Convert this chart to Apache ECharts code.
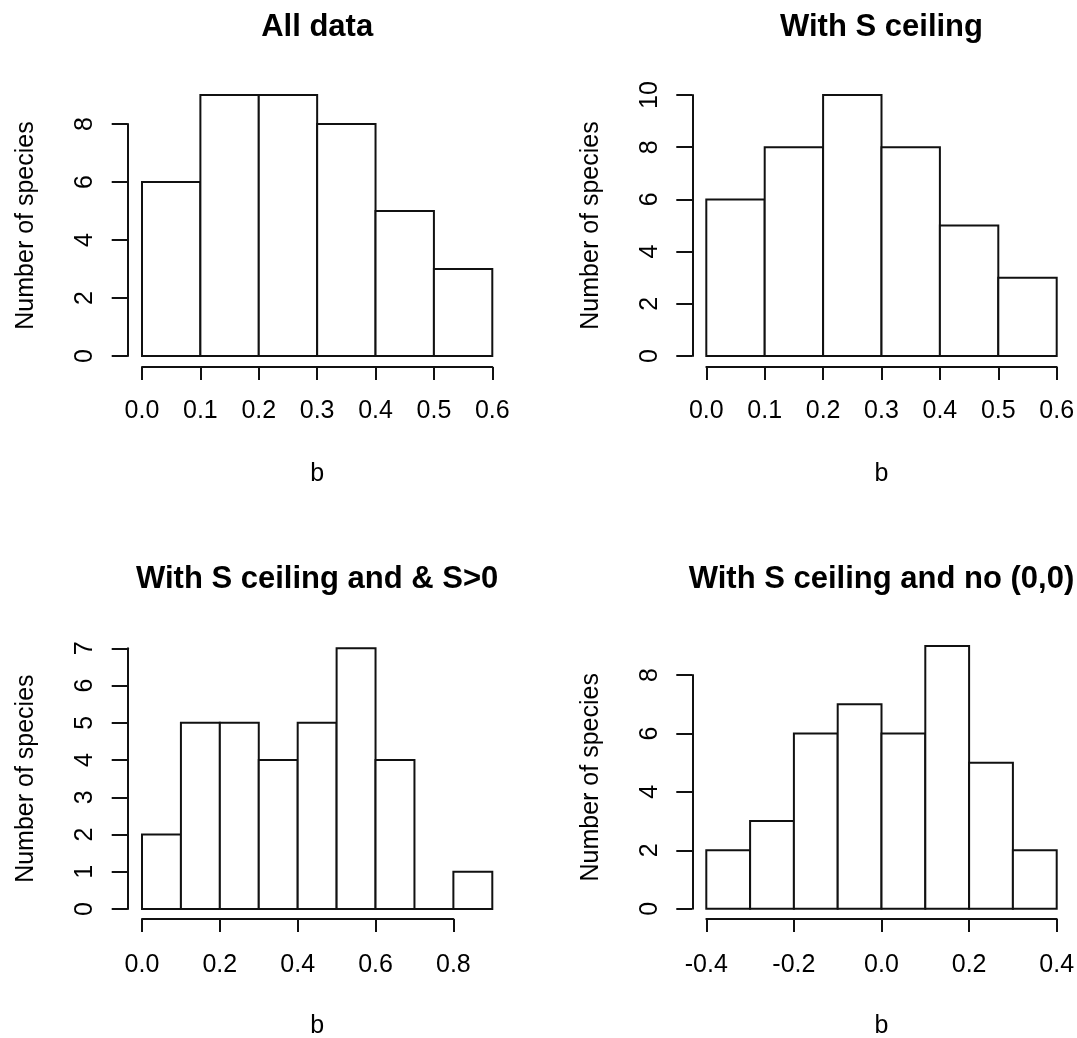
<!DOCTYPE html>
<html>
<head>
<meta charset="utf-8">
<script src="https://cdn.jsdelivr.net/npm/echarts@6/dist/echarts.min.js"></script>
<style>
html,body{margin:0;padding:0;background:#ffffff;}
#chart{width:1077px;height:1038px;}
</style>
</head>
<body>
<div id="chart"></div>
<script>
// ---------------- data ----------------
const titles = ['All data', 'With S ceiling', 'With S ceiling and & S>0', 'With S ceiling and no (0,0)'];
const xName = 'b';
const yName = 'Number of species';
const binWidth = 0.1;

const binStarts1 = [0.0, 0.1, 0.2, 0.3, 0.4, 0.5];
const counts1    = [6, 9, 9, 8, 5, 3];
const xTicks1    = [0.0, 0.1, 0.2, 0.3, 0.4, 0.5, 0.6];
const yTicks1    = [0, 2, 4, 6, 8];

const binStarts2 = [0.0, 0.1, 0.2, 0.3, 0.4, 0.5];
const counts2    = [6, 8, 10, 8, 5, 3];
const xTicks2    = [0.0, 0.1, 0.2, 0.3, 0.4, 0.5, 0.6];
const yTicks2    = [0, 2, 4, 6, 8, 10];

const binStarts3 = [0.0, 0.1, 0.2, 0.3, 0.4, 0.5, 0.6, 0.7, 0.8];
const counts3    = [2, 5, 5, 4, 5, 7, 4, 0, 1];
const xTicks3    = [0.0, 0.2, 0.4, 0.6, 0.8];
const yTicks3    = [0, 1, 2, 3, 4, 5, 6, 7];

const binStarts4 = [-0.4, -0.3, -0.2, -0.1, 0.0, 0.1, 0.2, 0.3];
const counts4    = [2, 3, 6, 7, 6, 9, 5, 2];
const xTicks4    = [-0.4, -0.2, 0.0, 0.2, 0.4];
const yTicks4    = [0, 2, 4, 6, 8];

// ---------------- layout (pixels) ----------------
// left/right: pixel x of the first/last data edge; base: pixel y of count 0; top: pixel y of max count
const layouts = [
  {left: 142,   right: 492.3,  base: 356,   top: 95,    xOff: 11, yOff: 14.3, titleY: 27.5, labelMargin: 32},
  {left: 706.3, right: 1056.7, base: 356,   top: 95,    xOff: 11, yOff: 14,   titleY: 27.5, labelMargin: 32},
  {left: 142,   right: 492.3,  base: 909,   top: 648.3, xOff: 10, yOff: 14.3, titleY: 579,  labelMargin: 34},
  {left: 706.3, right: 1056.7, base: 908.7, top: 645.9, xOff: 10.3, yOff: 14, titleY: 579,  labelMargin: 34}
];

const panelsData = [
  {starts: binStarts1, counts: counts1, xTicks: xTicks1, yTicks: yTicks1},
  {starts: binStarts2, counts: counts2, xTicks: xTicks2, yTicks: yTicks2},
  {starts: binStarts3, counts: counts3, xTicks: xTicks3, yTicks: yTicks3},
  {starts: binStarts4, counts: counts4, xTicks: xTicks4, yTicks: yTicks4}
];

const FONT = '"Liberation Sans", Arial, Helvetica, sans-serif';
const INK = '#111';

const grid = [], xAxis = [], yAxis = [], series = [], title = [];

panelsData.forEach((p, i) => {
  const L = layouts[i];
  const dataXMin = p.starts[0];
  const dataXMax = +(p.starts[p.starts.length - 1] + binWidth).toFixed(2);
  const dataYMax = Math.max.apply(null, p.counts);
  const tickXMin = p.xTicks[0], tickXMax = p.xTicks[p.xTicks.length - 1];
  const tickYMax = p.yTicks[p.yTicks.length - 1];
  const xInt = +(p.xTicks[1] - p.xTicks[0]).toFixed(2);
  const yInt = p.yTicks[1] - p.yTicks[0];

  const dW = L.right - L.left;
  const dH = L.base - L.top;
  const pxPerX = dW / (dataXMax - dataXMin);
  const pxPerY = dH / dataYMax;

  // axis grid (extent = tick range, like R's axis lines)
  const aLeft = L.left + (tickXMin - dataXMin) * pxPerX;
  const aW = (tickXMax - tickXMin) * pxPerX;
  const aH = tickYMax * pxPerY;
  grid.push({left: aLeft, top: L.base - aH, width: aW, height: aH, outerBoundsMode: 'none', containLabel: false});
  // data grid
  grid.push({left: L.left, top: L.top, width: dW, height: dH, outerBoundsMode: 'none', containLabel: false});

  const axisGridIdx = 2 * i, dataGridIdx = 2 * i + 1;

  xAxis.push({
    type: 'value', gridIndex: axisGridIdx, position: 'bottom',
    min: tickXMin, max: tickXMax, interval: xInt, offset: L.xOff,
    axisLine: {show: true, onZero: false, lineStyle: {color: INK, width: 2}},
    axisTick: {show: true, length: 13, lineStyle: {color: INK, width: 2}},
    axisLabel: {show: true, margin: L.labelMargin, fontSize: 25, fontFamily: FONT, color: '#000',
                showMinLabel: true, showMaxLabel: true,
                formatter: v => (Math.abs(v) < 1e-9 ? 0 : v).toFixed(1)},
    splitLine: {show: false}
  });
  xAxis.push({
    type: 'value', gridIndex: dataGridIdx, position: 'bottom',
    min: dataXMin, max: dataXMax, offset: L.xOff,
    axisLine: {show: false}, axisTick: {show: false}, axisLabel: {show: false}, splitLine: {show: false},
    name: xName, nameLocation: 'middle', nameGap: 95,
    nameTextStyle: {fontSize: 25, fontFamily: FONT, color: '#000'}
  });

  yAxis.push({
    type: 'value', gridIndex: axisGridIdx, position: 'left',
    min: 0, max: tickYMax, interval: yInt, offset: L.yOff,
    axisLine: {show: true, onZero: false, lineStyle: {color: INK, width: 2}},
    axisTick: {show: true, length: 16, lineStyle: {color: INK, width: 2}},
    axisLabel: {show: true, rotate: 90, margin: 30, fontSize: 25, fontFamily: FONT, color: '#000',
                showMinLabel: true, showMaxLabel: true},
    splitLine: {show: false}
  });
  yAxis.push({
    type: 'value', gridIndex: dataGridIdx, position: 'left',
    min: 0, max: dataYMax, offset: L.yOff,
    axisLine: {show: false}, axisTick: {show: false}, axisLabel: {show: false}, splitLine: {show: false},
    name: yName, nameLocation: 'middle', nameGap: 89, nameRotate: 90,
    nameTextStyle: {fontSize: 25, fontFamily: FONT, color: '#000'}
  });

  series.push({
    type: 'custom',
    xAxisIndex: dataGridIdx, yAxisIndex: dataGridIdx,
    clip: false, silent: true,
    encode: {x: [0, 1], y: 2},
    data: p.starts.map((s, k) => [s, +(s + binWidth).toFixed(2), p.counts[k]]),
    renderItem: (params, api) => {
      const a = api.coord([api.value(0), 0]);
      const b = api.coord([api.value(1), api.value(2)]);
      return {
        type: 'rect',
        shape: {x: a[0], y: b[1], width: b[0] - a[0], height: a[1] - b[1]},
        style: {fill: '#ffffff', stroke: INK, lineWidth: 2}
      };
    }
  });

  title.push({
    text: titles[i],
    left: (L.left + L.right) / 2, top: L.titleY,
    textAlign: 'center', textVerticalAlign: 'middle', padding: 0,
    textStyle: {fontSize: 31, fontWeight: 'bold', fontFamily: FONT, color: '#000'}
  });
});

const chart = echarts.init(document.getElementById('chart'), null, {renderer: 'canvas'});
chart.setOption({
  backgroundColor: '#ffffff',
  animation: false,
  title: title,
  grid: grid,
  xAxis: xAxis,
  yAxis: yAxis,
  series: series
});
</script>
</body>
</html>
